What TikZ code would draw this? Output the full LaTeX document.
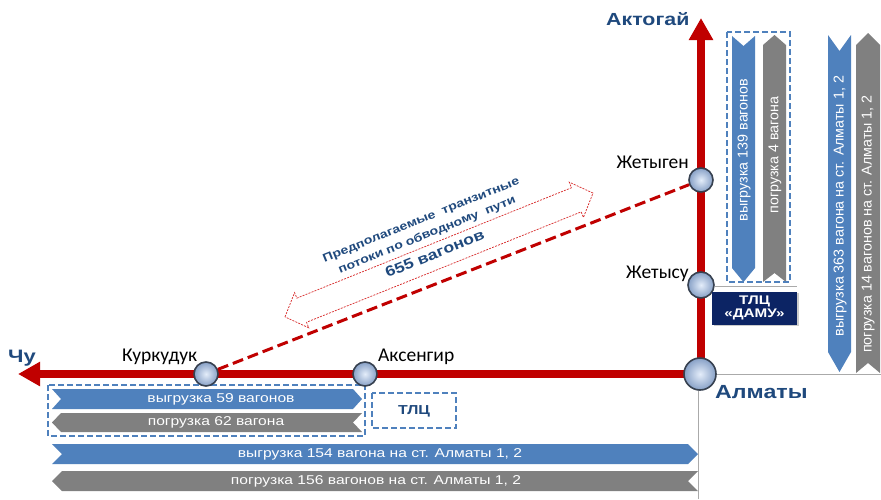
\documentclass[tikz,border=0pt]{standalone}
\usepackage{fontspec}
\setmainfont{Liberation Sans}
\newfontfamily\wfont[FakeStretch=1.22]{Liberation Sans}
\newfontfamily\stfont{Carlito}
\usetikzlibrary{arrows.meta,shadows}
\definecolor{rrd}{RGB}{192,0,0}
\definecolor{arrd}{RGB}{215,40,40}
\definecolor{bbar}{RGB}{79,129,189}
\definecolor{gbar}{RGB}{128,128,128}
\definecolor{dblue}{RGB}{31,73,125}
\definecolor{navy}{RGB}{12,36,100}
\definecolor{lgray}{RGB}{170,170,170}
\definecolor{ballin}{RGB}{228,237,250}
\definecolor{ballout}{RGB}{135,160,198}
\definecolor{ballrim}{RGB}{55,65,80}
% horizontal bar, notched left, pointed right
\newcommand\barR[6]{\fill[#6] (#1,#3) -- ({#2-#5},#3) -- (#2,{(#3+#4)/2}) -- ({#2-#5},#4) -- (#1,#4) -- ({#1+#5},{(#3+#4)/2}) -- cycle;}
% horizontal bar, pointed left, notched right
\newcommand\barL[6]{\fill[#6] (#1,{(#3+#4)/2}) -- ({#1+#5},#3) -- (#2,#3) -- ({#2-#5},{(#3+#4)/2}) -- (#2,#4) -- ({#1+#5},#4) -- cycle;}
% vertical bar, notched top, pointed bottom: x1 x2 y1 y2 ptop pbot style
\newcommand\barD[7]{\fill[#7] (#1,#3) -- ({(#1+#2)/2},{#3+#5}) -- (#2,#3) -- (#2,{#4-#6}) -- ({(#1+#2)/2},#4) -- (#1,{#4-#6}) -- cycle;}
% vertical bar, pointed top, notched bottom
\newcommand\barU[7]{\fill[#7] ({(#1+#2)/2},#3) -- (#2,{#3+#5}) -- (#2,#4) -- ({(#1+#2)/2},{#4-#6}) -- (#1,#4) -- (#1,{#3+#5}) -- cycle;}
\tikzset{
  rail/.style={draw=rrd, line width=7.5pt, -{Triangle[length=22pt 0 0, width=23pt 0 0]}},
  station/.style={circle, draw=ballrim, line width=1.6pt, inner color=ballin, outer color=ballout, minimum size=#1, inner sep=0pt},
  station/.default=24pt,
  stlabel/.style={font=\stfont\fontsize{19.5}{22}\selectfont, text=black, inner sep=0pt},
  biglabel/.style={font=\wfont\bfseries\fontsize{18}{20}\selectfont, text=dblue, inner sep=0pt},
  bartext/.style={font=\wfont\fontsize{12.8}{14}\selectfont, text=white, inner sep=0pt},
  vtext/.style={font=\fontsize{14.3}{16}\selectfont, text=white, inner sep=0pt, rotate=90},
  dbox/.style={draw=bbar, line width=1.8pt, dash pattern=on 6pt off 3pt},
  thin/.style={draw=lgray, line width=0.9pt}
}
\begin{document}
\begin{tikzpicture}[x=1pt,y=-1pt]
\useasboundingbox (0,0) rectangle (881,499);
\fill[white] (0,0) rectangle (881,499);

% thin gray lines
\coordinate (g1) at (698,374);
\coordinate (g2) at (698,499);
\coordinate (g3) at (881,374);
\coordinate (g4) at (715,286);
\coordinate (g5) at (797,286);
\draw[thin] (g1) -- (g2);
\draw[thin] (g1) -- (g3);
\draw[thin] (g4) -- (g5);

% bottom-left bars
\barR{52}{362}{389}{409}{9}{bbar}
\node[bartext] (t59) at (221,399.5) {выгрузка 59 вагонов};
\barL{52}{362}{413}{432}{9}{gbar}
\node[bartext] (t62) at (216,422.5) {погрузка 62 вагона};
\draw[dbox] (48,385) rectangle (365,436);

\draw[dbox] (372,393) rectangle (456,428);
\node[font=\wfont\bfseries\fontsize{13}{15}\selectfont, text=dblue] (tlc) at (414,411) {ТЛЦ};

\barR{52}{698}{444}{464}{10}{bbar}
\node[bartext] (t154) at (380,454.5) {выгрузка 154 вагона на ст. Алматы 1, 2};
\barL{52}{698}{471}{491}{10}{gbar}
\node[bartext] (t156) at (376,481.5) {погрузка 156 вагонов на ст. Алматы 1, 2};

% vertical bars near Zhetygen
\barD{732}{755}{36}{282}{10}{14}{bbar}
\node[vtext] (t139) at (744,150) {выгрузка 139 вагонов};
\barU{763}{786}{35}{282}{10}{9}{gbar}
\node[vtext] (t4) at (775,155) {погрузка 4 вагона};
\draw[dbox] (727,32) rectangle (790,282);

% far right bars
\barD{828}{851}{35}{372}{16}{20}{bbar}
\node[vtext] (t363) at (840,206) {выгрузка 363 вагона на ст. Алматы 1, 2};
\barU{856}{880}{33}{373}{12}{10}{gbar}
\node[vtext] (t14) at (868,224) {погрузка 14 вагонов на ст. Алматы 1, 2};

% rails
\coordinate (almC) at (700,374);
\coordinate (kurC) at (206,374);
\coordinate (aksC) at (365,374);
\coordinate (zhgC) at (701,180);
\coordinate (zhsC) at (701,285);
\coordinate (chuTip) at (18,374);
\coordinate (aktTip) at (701,18);
\coordinate (almV) at (701,374);
\draw[rail] (almC) -- (chuTip);
\draw[rail] (almV) -- (aktTip);

% bypass double arrow
\begin{scope}[shift={(439,255)}, rotate=21.9]
  \draw[arrd, line width=0.7pt, dash pattern=on 2pt off 1.2pt]
    (-166,0) -- (-148,-19) -- (-148,-13) -- (148,-13) -- (148,-19) -- (166,0)
    -- (148,19) -- (148,13) -- (-148,13) -- (-148,19) -- cycle;
\end{scope}
\node[rotate=21.9, text=dblue, font=\wfont\bfseries\fontsize{11.5}{15}\selectfont, align=center, inner sep=0pt] (bytxt) at (428,237)
  {Предполагаемые~~транзитные\\[1pt]потоки по обводному~~пути\\[7pt]{\fontsize{14.5}{17}\selectfont 655 вагонов}};

% stations
\node[station] (kur) at (kurC) {};
\node[station] (aks) at (aksC) {};
\node[station] (zhg) at (zhgC) {};
\node[station=26pt] (zhs) at (zhsC) {};
\node[station=32pt] (alm) at (almC) {};

\draw[rrd, line width=3pt, dash pattern=on 11pt off 5pt] (kur) -- (zhg);

% TLC DAMU
\node[fill=navy, minimum width=85pt, minimum height=33pt, drop shadow={opacity=0.4, shadow xshift=1.5pt, shadow yshift=-1.5pt}, text=white, font=\wfont\bfseries\fontsize{12.5}{12.5}\selectfont, align=center, inner sep=0pt] (damu) at (754.5,308) {ТЛЦ\\«ДАМУ»};

% labels
\node[stlabel, anchor=base west] (lkur) at (122,361) {Куркудук};
\node[stlabel, anchor=base west] (laks) at (378,361) {Аксенгир};
\node[stlabel, anchor=base east] (lzhg) at (689,168) {Жетыген};
\node[stlabel, anchor=base east] (lzhs) at (689,278) {Жетысу};
\node[biglabel, anchor=base west] (lchu) at (8,362) {Чу};
\node[biglabel, anchor=base west, font=\wfont\bfseries\fontsize{17.5}{20}\selectfont] (lakt) at (606,25) {Актогай};
\node[biglabel, anchor=base west, font=\wfont\bfseries\fontsize{19}{21}\selectfont] (lalm) at (715,398) {Алматы};
\end{tikzpicture}
\end{document}
